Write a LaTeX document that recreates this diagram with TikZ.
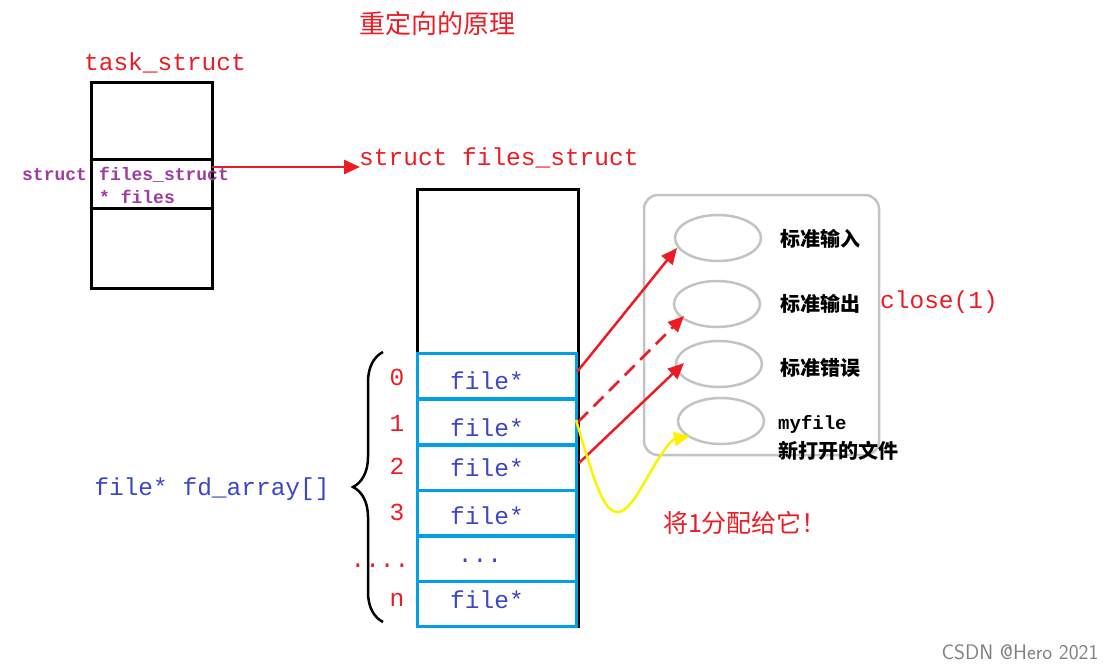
\documentclass[tikz,border=0pt]{standalone}
\usepackage{fontspec}
\setmonofont{Liberation Mono}
\newfontfamily\cjk{Noto Sans CJK SC}
\usetikzlibrary{arrows.meta,decorations.pathreplacing,shapes.geometric}
\definecolor{myred}{RGB}{237,28,36}
\definecolor{mypurple}{RGB}{160,60,160}
\definecolor{myblue}{RGB}{60,70,200}
\definecolor{cellblue}{RGB}{0,160,230}
\definecolor{boxgray}{RGB}{195,195,195}
\tikzset{
  redtxt/.style={text=myred,font=\ttfamily\fontsize{24.5}{26}\selectfont,inner sep=0pt},
  bluetxt/.style={text=myblue,font=\ttfamily\fontsize{24.5}{26}\selectfont,inner sep=0pt},
  purptxt/.style={text=mypurple,font=\ttfamily\bfseries\fontsize{18}{20}\selectfont,inner sep=0pt,anchor=west},
  blk/.style={text=black,font=\cjk\bfseries\fontsize{20}{22}\selectfont,inner sep=0pt},
  ell/.style={draw=boxgray,line width=2.5pt,ellipse,minimum width=86pt,minimum height=46pt},
  redarr/.style={draw=myred,line width=2.5pt,-{Triangle[length=16pt,width=14pt]}},
}
\begin{document}
\begin{tikzpicture}[x=1pt,y=-1pt]
\useasboundingbox (0,0) rectangle (1120,669);
\node[redtxt,font=\cjk\fontsize{26}{28}\selectfont] (title) at (437,24) {重定向的原理};
\node[redtxt] (ts) at (165,63) {task\_struct};
% task box
\draw[line width=3pt] (91,83) rectangle (212,288);
\draw[line width=3pt] (91,159) -- (212,159) (91,208) -- (212,208);
\node[purptxt] (p1) at (22,175) {struct};
\node[purptxt] (p2) at (99,175) {files\_struct};
\node[purptxt] (p3) at (99,197) {* files};
\coordinate (a0) at (212,167);
\coordinate (a1) at (360,167);
\node[redtxt,anchor=west] (fs) at (359,158) {struct files\_struct};
\draw[redarr] (a0) -- (a1);
% files box
\draw[line width=3pt] (417,189) rectangle (578,626);
\foreach \y in {353,399,445,490,536,581}{
  \draw[cellblue,line width=3pt] (417,\y) rectangle (576,\y+45);
}
\node[bluetxt] (f0) at (487,381) {file*};
\node[bluetxt] (f1) at (487,428) {file*};
\node[bluetxt] (f2) at (487,468) {file*};
\node[bluetxt] (f3) at (487,516) {file*};
\node[bluetxt] (f4) at (480,561) {...};
\node[bluetxt] (f5) at (487,600) {file*};
\node[redtxt] (i0) at (397,377) {0};
\node[redtxt] (i1) at (397,423) {1};
\node[redtxt] (i2) at (397,466) {2};
\node[redtxt] (i3) at (397,512) {3};
\node[redtxt] (i4) at (380,566) {....};
\node[redtxt] (i5) at (397,600) {n};
\draw[line width=2.5pt,decorate,decoration={brace,amplitude=30pt}] (383,622) -- (383,352);
\node[bluetxt] (fd) at (212,489) {file* fd\_array[]};
% gray box
\draw[boxgray,line width=2.5pt,rounded corners=14pt] (644,195) rectangle (879,455);
\node[ell] (e0) at (718,238) {};
\node[ell] (e1) at (717,304) {};
\node[ell] (e2) at (719,364) {};
\node[ell] (e3) at (721,421) {};
\node[blk] (l0) at (820,239) {标准输入};
\node[blk] (l1) at (820,304) {标准输出};
\node[blk] (l2) at (820,368) {标准错误};
\node[blk,anchor=west,font=\ttfamily\bfseries\fontsize{19}{21}\selectfont] (l3) at (778,424) {myfile};
\node[blk,anchor=west] (l4) at (778,451) {新打开的文件};
\node[redtxt] (cl) at (939,302) {close(1)};
\coordinate (s0) at (577,372);
\coordinate (s1) at (578,422);
\coordinate (s2) at (579,463);
\draw[redarr] (s0) -- (677,248);
\draw[redarr,dash pattern=on 14pt off 8pt] (s1) -- (684,316);
\draw[redarr] (s2) -- (684,363);
\coordinate (y0) at (576,420);
\draw[yellow,line width=2.5pt,-{Triangle[length=16pt,width=14pt]}] (y0) .. controls (600,500) and (610,540) .. (640,490) .. controls (660,455) and (670,440) .. (690,436);
\node[redtxt,font=\cjk\fontsize{25}{27}\selectfont] (give) at (745,523) {将1分配给它！};
\node[text=gray,font=\sffamily\fontsize{21}{23}\selectfont,inner sep=0pt] (wm) at (1020,652) {CSDN @Hero 2021};
\end{tikzpicture}
\end{document}
